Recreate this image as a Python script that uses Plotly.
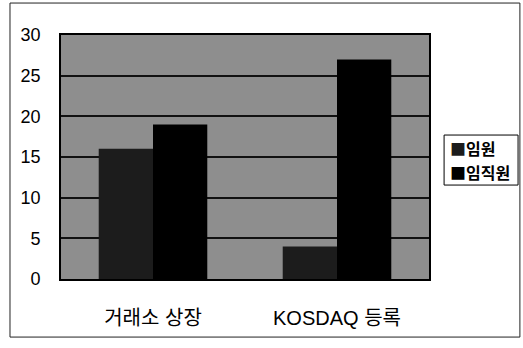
import plotly.graph_objects as go

# 상장/등록 구분별 인원 (단위: 명)
categories = ["거래소 상장", "KOSDAQ 등록"]
series_names = ["임원", "임직원"]
exec_values = [16, 4]
staff_values = [19, 27]
y_ticks = [0, 5, 10, 15, 20, 25, 30]

bar_colors = ["#1c1c1c", "#000000"]
font_family = "Liberation Sans, Arial, Noto Sans CJK KR, sans-serif"

fig = go.Figure()
for name, vals, col in zip(series_names, [exec_values, staff_values], bar_colors):
    fig.add_trace(go.Bar(
        x=categories, y=vals, name=name,
        marker=dict(color=col, line=dict(width=0)),
        showlegend=False,
    ))

fig.update_layout(
    width=523, height=348,
    margin=dict(l=61, r=94, t=35, b=69),
    paper_bgcolor="white",
    plot_bgcolor="#8e8e8e",
    barmode="group",
    bargap=0.41,
    bargroupgap=0,
    font=dict(family=font_family, color="black", size=16),
)

fig.update_yaxes(
    range=[0, 30], tickvals=y_ticks, ticktext=[str(v) for v in y_ticks],
    showgrid=True, gridcolor="#111111", gridwidth=1.6,
    showline=True, linecolor="black", linewidth=1.6, mirror=True,
    zeroline=False, ticks="", ticklabelstandoff=15,
    tickfont=dict(size=18),
)
fig.update_xaxes(
    showline=True, linecolor="black", linewidth=1.6, mirror=True,
    ticks="", ticklabelstandoff=20,
    tickfont=dict(size=20, family="Liberation Sans, Noto Sans CJK KR, sans-serif"),
)

# legend: framed box with one text row per series
fig.add_shape(
    type="rect", xref="paper", yref="paper",
    x0=1.041, x1=1.242, y0=0.385, y1=0.590,
    line=dict(color="black", width=1), fillcolor="white",
)
row_y = [0.537, 0.4385]
for name, col, yy in zip(series_names, bar_colors, row_y):
    fig.add_annotation(
        xref="paper", yref="paper", x=1.052, y=yy,
        xanchor="left", yanchor="middle", align="left",
        text=f"<span style='color:{col}'>■</span><b>{name}</b>",
        showarrow=False,
        font=dict(size=16, family="Noto Sans CJK KR, sans-serif", color="black"),
    )

# outer chart frame
fig.add_shape(
    type="rect", xref="paper", yref="paper",
    x0=-0.1386, x1=1.247, y0=-0.238, y1=1.131,
    line=dict(color="#222222", width=1), fillcolor="rgba(0,0,0,0)",
    layer="below",
)

fig.write_html("out.html")
